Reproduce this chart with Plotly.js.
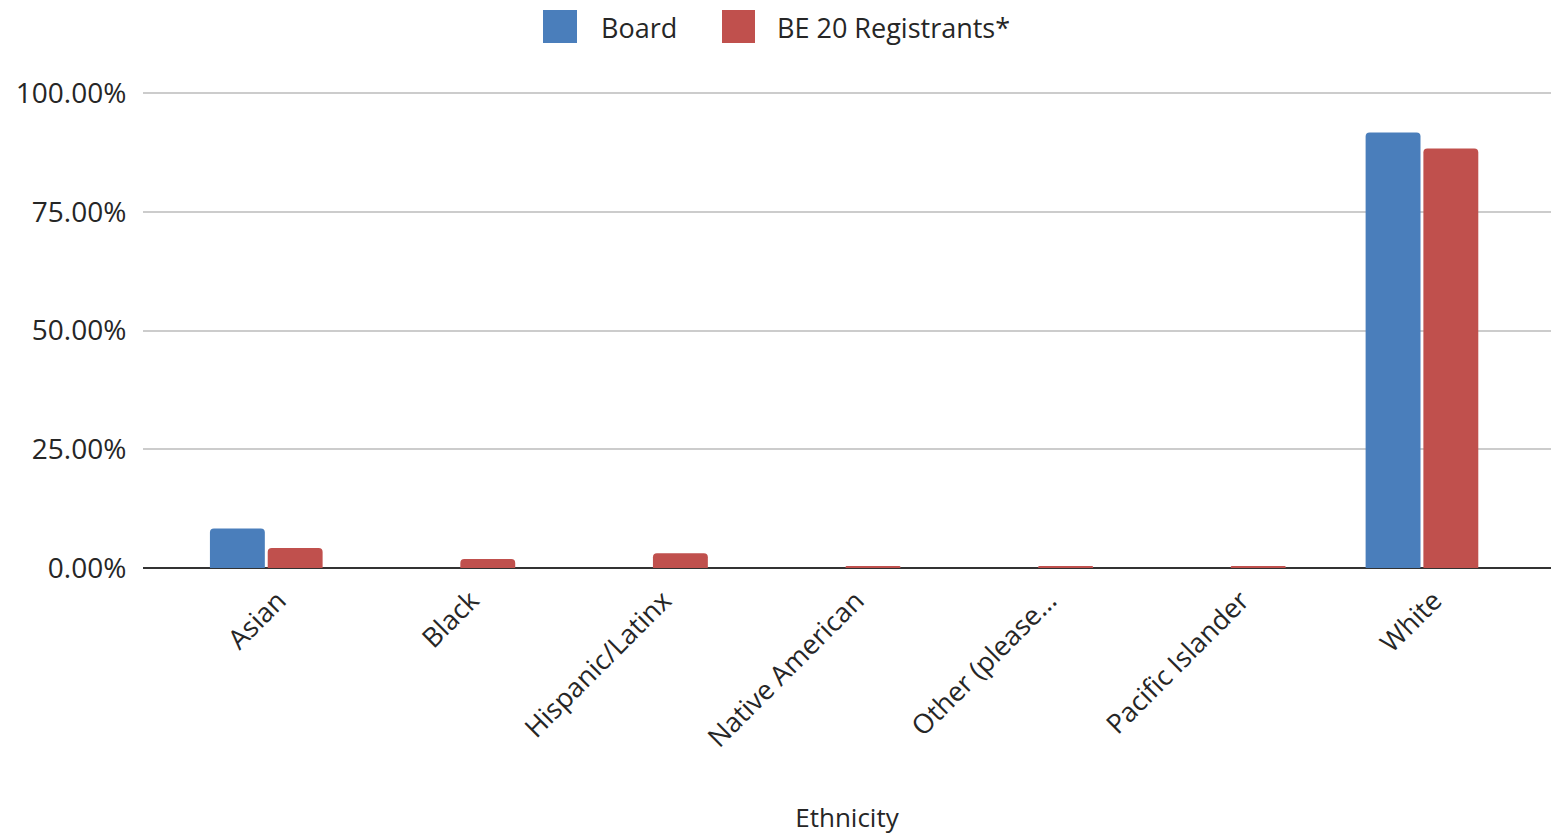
<!DOCTYPE html>
<html>
<head>
<meta charset="utf-8">
<script src="https://cdn.plot.ly/plotly-3.0.1.min.js"></script>
<style>html,body{margin:0;padding:0;background:#fff;}#chart{width:1551px;height:835px;}</style>
</head>
<body>
<div id="chart"></div>
<script>
const categories = ["Asian", "Black", "Hispanic/Latinx", "Native American", "Other (please...", "Pacific Islander", "White"];
const boardValues = [8.3, 0, 0, 0, 0, 0, 91.7];
const registrantValues = [4.2, 1.9, 3.1, 0.4, 0.4, 0.4, 88.3];
const seriesNames = ["Board", "BE 20 Registrants*"];
const yTicks = [0, 25, 50, 75, 100];
const yTickLabels = yTicks.map(v => v.toFixed(2) + "%");

const blue = "#4a7ebb";
const red = "#c0504d";
const fontFam = "'Open Sans', 'Noto Sans', sans-serif";
const textColor = "#262626";

const traces = [
  {type: "bar", name: seriesNames[0], x: categories, y: boardValues, marker: {color: blue}, showlegend: false},
  {type: "bar", name: seriesNames[1], x: categories, y: registrantValues, marker: {color: red}, showlegend: false}
];

const T = 91, B = 267, PH = 835 - T - B;
function py(pix) { return (835 - B - pix) / PH; }

const layout = {
  width: 1551, height: 835,
  paper_bgcolor: "#fff", plot_bgcolor: "#fff",
  margin: {l: 143, r: 0, t: T, b: B, autoexpand: false},
  barmode: "group", bargap: 0.4, bargroupgap: 0.05, barcornerradius: 4,
  font: {family: fontFam, color: textColor, size: 26},
  xaxis: {
    type: "category", range: [-0.64, 6.67],
    tickangle: -45, showgrid: false, zeroline: false, showline: false,
    ticks: "outside", ticklen: 5, tickcolor: "rgba(0,0,0,0)",
    ticklabelshift: 12,
    tickfont: {size: 27, color: textColor},
    title: {text: "Ethnicity", font: {size: 26, color: textColor}, standoff: 80}
  },
  yaxis: {
    range: [0, 100 + 2 / 4.75], tickmode: "array", tickvals: yTicks, ticktext: yTickLabels,
    showgrid: true, gridcolor: "#cccccc", gridwidth: 2,
    zeroline: true, zerolinecolor: "#333333", zerolinewidth: 2.5,
    ticks: "outside", ticklen: 10, tickcolor: "rgba(0,0,0,0)",
    tickfont: {size: 28, color: textColor}, fixedrange: true
  },
  shapes: [
    {type: "rect", xref: "paper", yref: "paper", x0: (543-143)/1408, x1: (577-143)/1408, y0: py(43), y1: py(10), fillcolor: blue, line: {width: 0}, layer: "above"},
    {type: "rect", xref: "paper", yref: "paper", x0: (722-143)/1408, x1: (755-143)/1408, y0: py(43), y1: py(10), fillcolor: red, line: {width: 0}, layer: "above"}
  ],
  annotations: [
    {xref: "paper", yref: "paper", x: (599-143)/1408, y: py(27), xanchor: "left", yanchor: "middle", text: seriesNames[0], showarrow: false, font: {size: 27, color: textColor}},
    {xref: "paper", yref: "paper", x: (775-143)/1408, y: py(27), xanchor: "left", yanchor: "middle", text: seriesNames[1], showarrow: false, font: {size: 27, color: textColor}}
  ]
};

Plotly.newPlot("chart", traces, layout, {displayModeBar: false, staticPlot: true});
</script>
</body>
</html>
